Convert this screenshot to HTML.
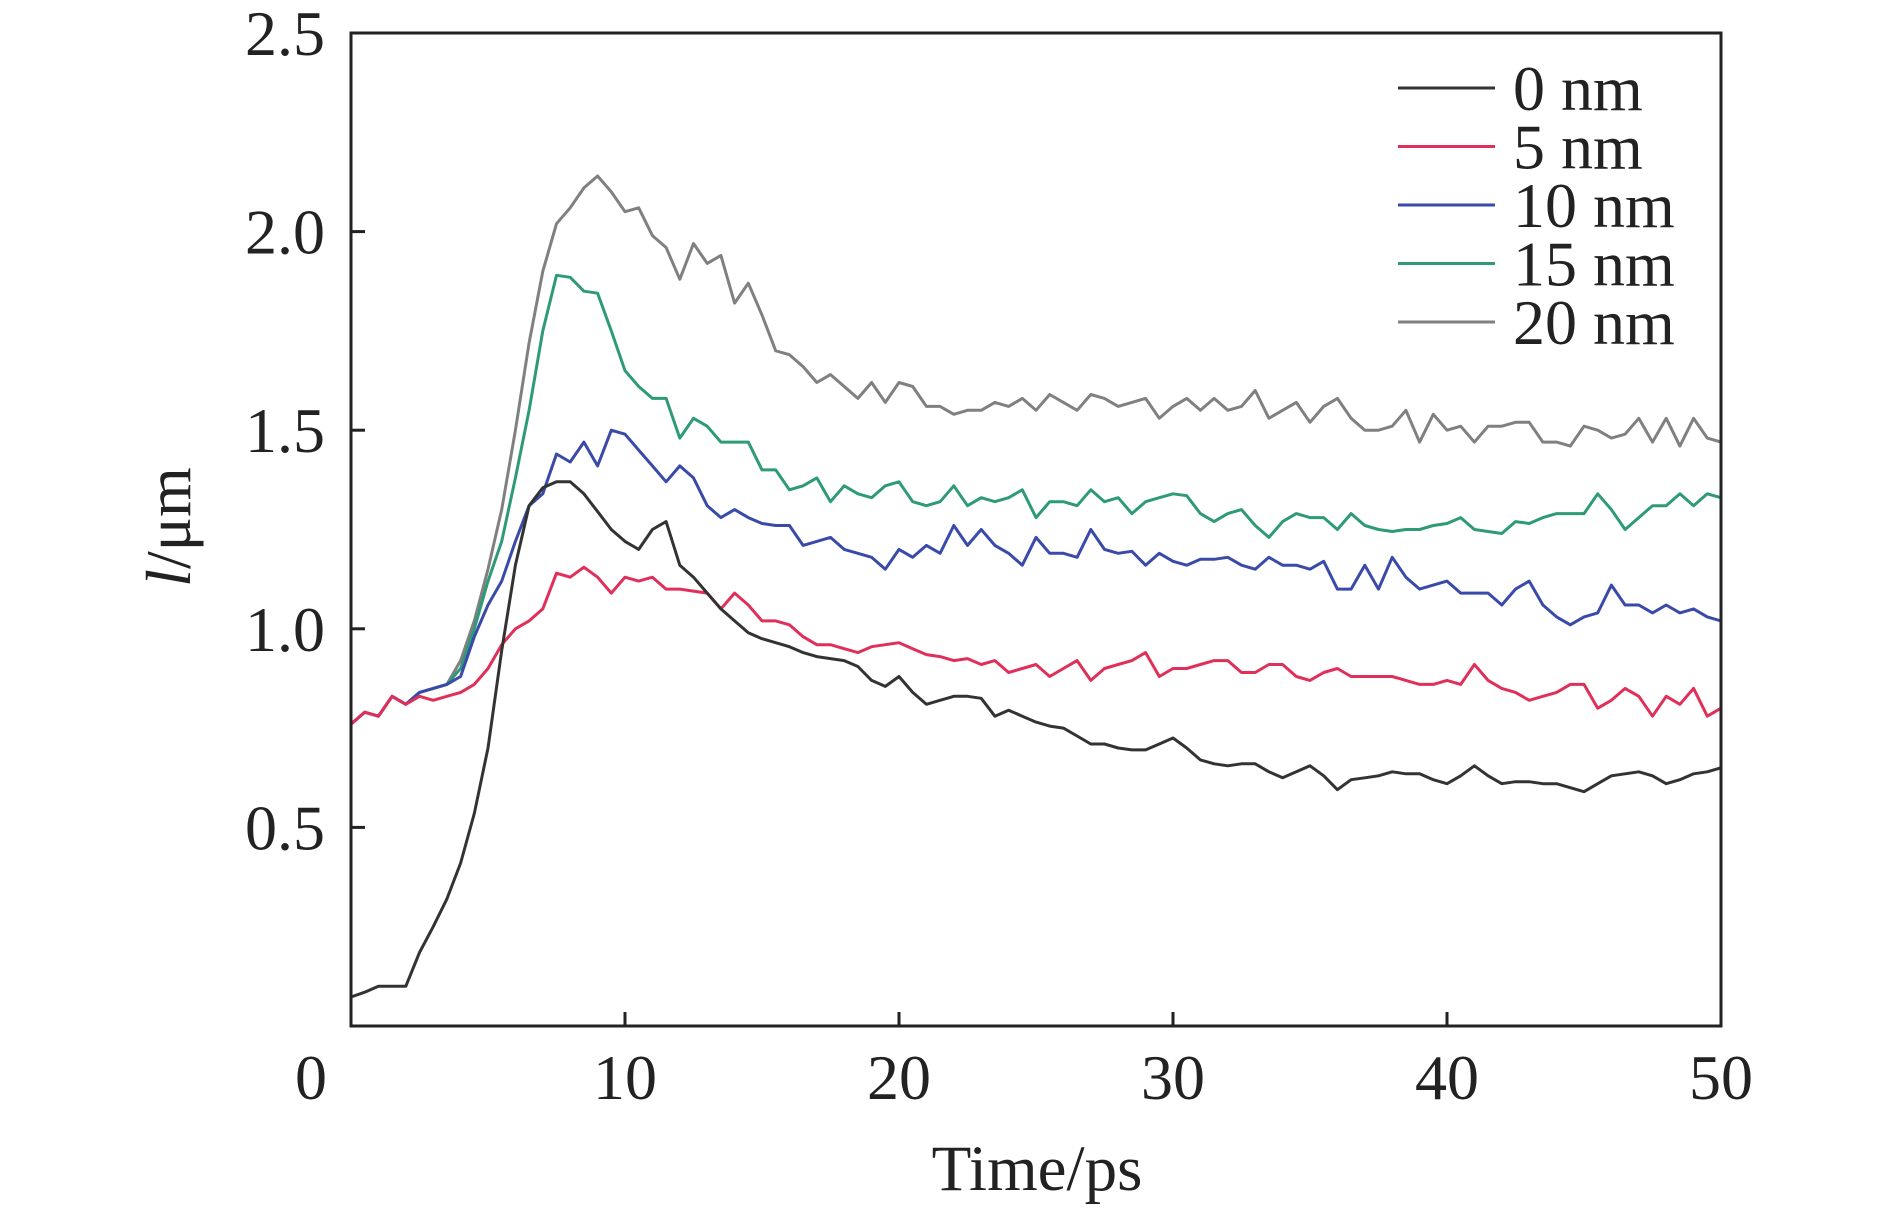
<!DOCTYPE html>
<html><head><meta charset="utf-8"><style>
body{margin:0;background:#fff;}
svg text{font-family:"Liberation Serif",serif;fill:#222;}
</style></head><body>
<svg id="chart" width="1890" height="1212" xmlns="http://www.w3.org/2000/svg">
<rect width="1890" height="1212" fill="#fff"/>
<g id="series"></g>
<g id="axes"></g>
<g id="legend"></g>
<text x="1037" y="1190" font-size="65" text-anchor="middle">Time/ps</text>
<text transform="translate(190,527) rotate(-90)" font-size="64" text-anchor="middle"><tspan font-style="italic">l</tspan>/μm</text>
</svg>
<script>
const times=[0,0.5,1,1.5,2,2.5,3,3.5,4,4.5,5,5.5,6,6.5,7,7.5,8,8.5,9,9.5,10,10.5,11,11.5,12,12.5,13,13.5,14,14.5,15,15.5,16,16.5,17,17.5,18,18.5,19,19.5,20,20.5,21,21.5,22,22.5,23,23.5,24,24.5,25,25.5,26,26.5,27,27.5,28,28.5,29,29.5,30,30.5,31,31.5,32,32.5,33,33.5,34,34.5,35,35.5,36,36.5,37,37.5,38,38.5,39,39.5,40,40.5,41,41.5,42,42.5,43,43.5,44,44.5,45,45.5,46,46.5,47,47.5,48,48.5,49,49.5,50];
const s0nm=[0.073,0.085,0.10,0.10,0.10,0.185,0.25,0.32,0.41,0.535,0.70,0.945,1.16,1.31,1.355,1.37,1.37,1.34,1.295,1.25,1.22,1.20,1.25,1.27,1.16,1.13,1.09,1.05,1.02,0.99,0.975,0.965,0.955,0.94,0.93,0.925,0.92,0.905,0.87,0.855,0.88,0.84,0.81,0.82,0.83,0.83,0.825,0.78,0.795,0.78,0.765,0.755,0.75,0.73,0.71,0.71,0.70,0.695,0.695,0.71,0.725,0.70,0.67,0.66,0.655,0.66,0.66,0.64,0.625,0.64,0.655,0.63,0.595,0.62,0.625,0.63,0.64,0.635,0.635,0.62,0.61,0.63,0.655,0.63,0.61,0.615,0.615,0.61,0.61,0.60,0.59,0.61,0.63,0.635,0.64,0.63,0.61,0.62,0.635,0.64,0.65];
const s5nm=[0.76,0.79,0.78,0.83,0.81,0.83,0.82,0.83,0.84,0.86,0.90,0.96,1.0,1.02,1.05,1.14,1.13,1.155,1.13,1.09,1.13,1.12,1.13,1.10,1.10,1.095,1.09,1.05,1.09,1.06,1.02,1.02,1.01,0.98,0.96,0.96,0.95,0.94,0.955,0.96,0.965,0.95,0.935,0.93,0.92,0.925,0.91,0.92,0.89,0.90,0.91,0.88,0.90,0.92,0.87,0.90,0.91,0.92,0.94,0.88,0.90,0.90,0.91,0.92,0.92,0.89,0.89,0.91,0.91,0.88,0.87,0.89,0.90,0.88,0.88,0.88,0.88,0.87,0.86,0.86,0.87,0.86,0.91,0.87,0.85,0.84,0.82,0.83,0.84,0.86,0.86,0.80,0.82,0.85,0.83,0.78,0.83,0.81,0.85,0.78,0.80];
const s10nm=[0.76,0.79,0.78,0.83,0.81,0.84,0.85,0.86,0.88,0.98,1.06,1.12,1.22,1.31,1.34,1.44,1.42,1.47,1.41,1.50,1.49,1.45,1.41,1.37,1.41,1.38,1.31,1.28,1.30,1.28,1.265,1.26,1.26,1.21,1.22,1.23,1.20,1.19,1.18,1.15,1.20,1.18,1.21,1.19,1.26,1.21,1.25,1.21,1.19,1.16,1.23,1.19,1.19,1.18,1.25,1.20,1.19,1.195,1.16,1.19,1.17,1.16,1.175,1.175,1.18,1.16,1.15,1.18,1.16,1.16,1.15,1.17,1.10,1.10,1.16,1.10,1.18,1.13,1.10,1.11,1.12,1.09,1.09,1.09,1.06,1.10,1.12,1.06,1.03,1.01,1.03,1.04,1.11,1.06,1.06,1.04,1.06,1.04,1.05,1.03,1.02];
const s15nm=[0.76,0.79,0.78,0.83,0.81,0.84,0.85,0.86,0.90,1.0,1.12,1.22,1.38,1.55,1.75,1.89,1.885,1.85,1.845,1.75,1.65,1.61,1.58,1.58,1.48,1.53,1.51,1.47,1.47,1.47,1.40,1.40,1.35,1.36,1.38,1.32,1.36,1.34,1.33,1.36,1.37,1.32,1.31,1.32,1.36,1.31,1.33,1.32,1.33,1.35,1.28,1.32,1.32,1.31,1.35,1.32,1.33,1.29,1.32,1.33,1.34,1.335,1.29,1.27,1.29,1.30,1.26,1.23,1.27,1.29,1.28,1.28,1.25,1.29,1.26,1.25,1.245,1.25,1.25,1.26,1.265,1.28,1.25,1.245,1.24,1.27,1.265,1.28,1.29,1.29,1.29,1.34,1.30,1.25,1.28,1.31,1.31,1.34,1.31,1.34,1.33];
const s20nm=[0.76,0.79,0.78,0.83,0.81,0.84,0.85,0.86,0.92,1.02,1.15,1.30,1.50,1.72,1.90,2.02,2.06,2.11,2.14,2.10,2.05,2.06,1.99,1.96,1.88,1.97,1.92,1.94,1.82,1.87,1.79,1.70,1.69,1.66,1.62,1.64,1.61,1.58,1.62,1.57,1.62,1.61,1.56,1.56,1.54,1.55,1.55,1.57,1.56,1.58,1.55,1.59,1.57,1.55,1.59,1.58,1.56,1.57,1.58,1.53,1.56,1.58,1.55,1.58,1.55,1.56,1.60,1.53,1.55,1.57,1.52,1.56,1.58,1.53,1.50,1.50,1.51,1.55,1.47,1.54,1.50,1.51,1.47,1.51,1.51,1.52,1.52,1.47,1.47,1.46,1.51,1.50,1.48,1.49,1.53,1.47,1.53,1.46,1.53,1.48,1.47];
const seriesNames=["0 nm","5 nm","10 nm","15 nm","20 nm"];
const seriesColors=["#333333","#e0305a","#3a4aa8","#2e9a78","#808080"];
const xTicks=[0,10,20,30,40,50];
const xTickLabels=["0","10","20","30","40","50"];
const yTicks=[0.5,1.0,1.5,2.0,2.5];
const yTickLabels=["0.5","1.0","1.5","2.0","2.5"];

const L=351,R=1721,T=33,B=1026;
const xMin=0,xMax=50,yMin=0,yMax=2.5;
const xs=v=>L+(v-xMin)/(xMax-xMin)*(R-L);
const ys=v=>B-(v-yMin)/(yMax-yMin)*(B-T);
const NS="http://www.w3.org/2000/svg";
function mk(tag,attrs,parent){const e=document.createElementNS(NS,tag);for(const k in attrs)e.setAttribute(k,attrs[k]);parent.appendChild(e);return e;}

const sg=document.getElementById('series');
const all=[s0nm,s5nm,s10nm,s15nm,s20nm];
[4,3,2,1,0].forEach(i=>{
  const d=all[i].map((v,j)=>(j?'L':'M')+xs(times[j]).toFixed(1)+','+ys(v).toFixed(1)).join(' ');
  const p=mk('path',{d:d,fill:'none',stroke:seriesColors[i],'stroke-width':3,'stroke-linejoin':'round'},sg);
  
  
});

const ax=document.getElementById('axes');
const frame=mk('rect',{x:L,y:T,width:R-L,height:B-T,fill:'none',stroke:'#222','stroke-width':3},ax);


xTicks.forEach((v,i)=>{
  const t=mk('line',{x1:xs(v),x2:xs(v),y1:B,y2:B-14,stroke:'#222','stroke-width':3},ax);
  
  
  const lx=i===0?xs(v)-40:xs(v);
  const tx=mk('text',{x:lx,y:1099,'font-size':64,'text-anchor':'middle'},ax);
  tx.textContent=xTickLabels[i];
  
  
});
yTicks.forEach((v,i)=>{
  const t=mk('line',{x1:L,x2:L+14,y1:ys(v),y2:ys(v),stroke:'#222','stroke-width':3},ax);
  
  
  const tx=mk('text',{x:325,y:ys(v)+22,'font-size':64,'text-anchor':'end'},ax);
  tx.textContent=yTickLabels[i];
  
  
});

const lg=document.getElementById('legend');
seriesNames.forEach((n,i)=>{
  const y=88+i*58.5;
  const ln=mk('line',{x1:1398,x2:1495,y1:y,y2:y,stroke:seriesColors[i],'stroke-width':3},lg);
  
  
  const tx=mk('text',{x:1513,y:y+22,'font-size':64},lg);
  tx.textContent=n;
  
  
});
</script>
</body></html>
